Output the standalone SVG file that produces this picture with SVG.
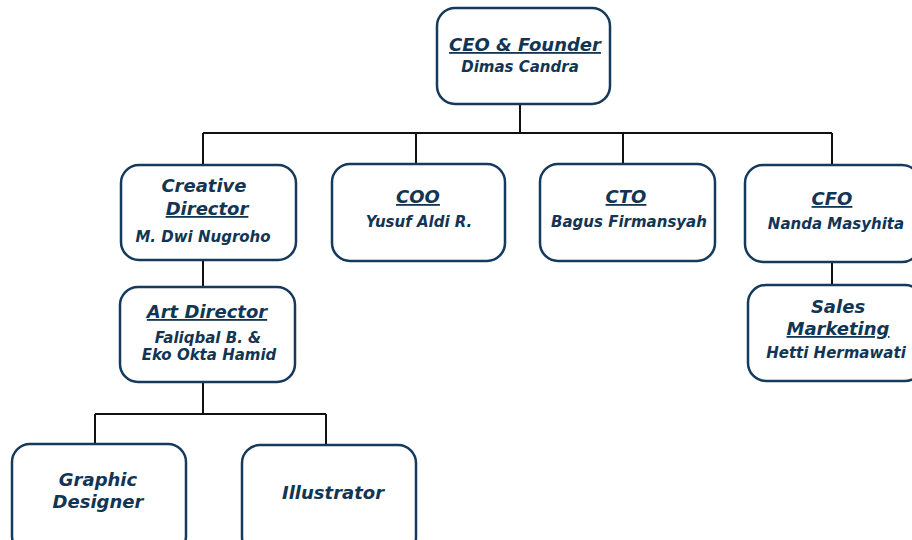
<svg xmlns="http://www.w3.org/2000/svg" width="912" height="540" viewBox="0 0 912 540">
<style>
.box{fill:#fff;stroke:#163a5c;stroke-width:2.5}
.t{font-family:"DejaVu Sans",sans-serif;font-weight:bold;font-style:italic;fill:#123553;text-anchor:middle}
.h{font-size:18px}
.n{font-size:15px}
.u{text-decoration:underline}
.c{fill:none;stroke:#111;stroke-width:2}
</style>
<rect width="912" height="540" fill="#fff"/>
<g id="connectors">
<path class="c" d="M520 104V133M203 133H832M203 133V165M416 133V164M623 133V164M832 133V165M203 260V287M203 382V414M95 414H326M95 414V444M326 414V445M832 262V285"/>
</g>
<g id="ceo"><rect class="box" x="437" y="8" width="173" height="96" rx="18"/>
<text class="t h u" x="525" y="51">CEO &amp; Founder</text>
<text class="t n" x="520" y="72">Dimas Candra</text></g>
<g id="creative"><rect class="box" x="121" y="165" width="175" height="95" rx="18"/>
<text class="t h" x="204" y="192">Creative</text>
<text class="t h u" x="207" y="215">Director</text>
<text class="t n" x="203" y="242">M. Dwi Nugroho</text></g>
<g id="coo"><rect class="box" x="332" y="164" width="173" height="97" rx="18"/>
<text class="t h u" x="418" y="203">COO</text>
<text class="t n" x="419" y="227">Yusuf Aldi R.</text></g>
<g id="cto"><rect class="box" x="540" y="164" width="175" height="97" rx="18"/>
<text class="t h u" x="626" y="203">CTO</text>
<text class="t n" x="629" y="227">Bagus Firmansyah</text></g>
<g id="cfo"><rect class="box" x="745" y="165" width="175" height="97" rx="18"/>
<text class="t h u" x="832" y="205">CFO</text>
<text class="t n" x="836" y="229">Nanda Masyhita</text></g>
<g id="art"><rect class="box" x="120" y="287" width="175" height="95" rx="18"/>
<text class="t h u" x="207" y="318">Art Director</text>
<text class="t n" x="208" y="343">Faliqbal B. &amp;</text>
<text class="t n" x="209" y="360">Eko Okta Hamid</text></g>
<g id="sales"><rect class="box" x="748" y="285" width="175" height="96" rx="18"/>
<text class="t h" x="838" y="313">Sales</text>
<text class="t h u" x="838" y="335">Marketing</text>
<text class="t n" x="836" y="358">Hetti Hermawati</text></g>
<g id="graphic"><rect class="box" x="12" y="444" width="174" height="110" rx="18"/>
<text class="t h" x="98" y="486">Graphic</text>
<text class="t h" x="98" y="508">Designer</text></g>
<g id="illustrator"><rect class="box" x="242" y="445" width="174" height="110" rx="18"/>
<text class="t h" x="333" y="499">Illustrator</text></g>
</svg>
